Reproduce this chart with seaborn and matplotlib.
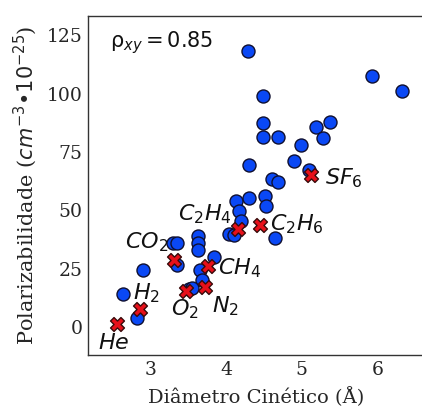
import matplotlib
matplotlib.use("Agg")
import matplotlib.pyplot as plt
import seaborn as sns
import pandas as pd

# Blue: all molecules
diam_all = [4.29, 5.93, 6.33, 4.49, 4.48, 4.49, 4.68, 5.19, 5.38, 5.28, 4.99, 4.89, 4.30, 5.10,
            4.60, 4.69, 4.13, 4.30, 4.51, 4.52, 4.17, 4.20, 4.04, 4.10, 4.65, 3.63, 3.62, 3.63,
            3.83, 3.29, 3.34, 3.35, 3.65, 3.68, 3.50, 3.55, 2.90, 2.63, 2.82]
polar_all = [118.2, 107.6, 101.3, 98.9, 87.4, 81.6, 81.3, 85.5, 87.7, 81.2, 78.0, 71.3, 69.4, 67.5,
             63.3, 62.2, 54.1, 55.2, 56.2, 52.1, 49.6, 45.4, 40.1, 39.4, 38.1, 39.0, 36.1, 32.9,
             30.1, 35.9, 35.9, 26.7, 24.4, 20.1, 16.4, 16.8, 24.4, 14.5, 4.1]

# Red: highlighted gases
gases = ["He", "H_2", "O_2", "N_2", "CH_4", "CO_2", "C_2H_4", "C_2H_6", "SF_6"]
diam_gas = [2.55, 2.85, 3.46, 3.72, 3.76, 3.30, 4.16, 4.45, 5.12]
polar_gas = [1.6, 7.9, 15.7, 17.1, 26.3, 28.7, 42.1, 43.9, 65.1]

# label anchor positions (left edge, vertical centre)
label_x = [2.30, 2.76, 3.27, 3.81, 3.89, 2.66, 3.36, 4.58, 5.31]
label_y = [-6.6, 14.8, 7.6, 8.9, 25.4, 36.4, 48.3, 44.1, 63.6]

sns.set_style("white")
plt.rcParams["mathtext.fontset"] = "dejavusans"

fig = plt.figure(figsize=(4.22, 4.08), dpi=100)
L, R, B, T = 88.3, 423.6, 355.0, 15.7
ax = fig.add_axes([L / 422, 1 - B / 408, (R - L) / 422, (B - T) / 408])

df_all = pd.DataFrame({"d": diam_all, "p": polar_all})
df_gas = pd.DataFrame({"d": diam_gas, "p": polar_gas})

sns.scatterplot(data=df_all, x="d", y="p", ax=ax, color="#0a48f5", edgecolor="#101030",
                s=88, linewidth=1.0, zorder=3)
sns.scatterplot(data=df_gas, x="d", y="p", ax=ax, color="#e8101a", edgecolor="#3a0a0a",
                marker="X", s=100, linewidth=1.0, zorder=4)

for g, lx, ly in zip(gases, label_x, label_y):
    ax.text(lx, ly, "$" + g + "$", fontsize=16, ha="left", va="center", color="#111111")

ax.text((110 - L) / (R - L), (B - 43) / (B - T), r"ρ$_{xy} = 0.85$", fontsize=15,
        ha="left", va="center", transform=ax.transAxes, color="#111111")

ax.set_xlim(2.169, 6.615)
ax.set_ylim(-11.8, 133.3)
ax.set_xticks([3, 4, 5, 6])
ax.set_yticks([0, 25, 50, 75, 100, 125])
ax.tick_params(direction="in", length=3.5, width=0.8, labelsize=13.5, color="#333333", pad=4)
for lab in ax.get_xticklabels() + ax.get_yticklabels():
    lab.set_fontfamily("DejaVu Serif")
for sp in ax.spines.values():
    sp.set_color("#333333")
    sp.set_linewidth(1.0)

ax.set_xlabel("Diâmetro Cinético (Å)", fontsize=14, family="DejaVu Serif", labelpad=6)
ax.set_ylabel(r"Polarizabilidade ($cm^{-3}$•$10^{-25}$)", fontsize=15, family="DejaVu Serif", labelpad=6)

fig.savefig("out.png", dpi=100)
